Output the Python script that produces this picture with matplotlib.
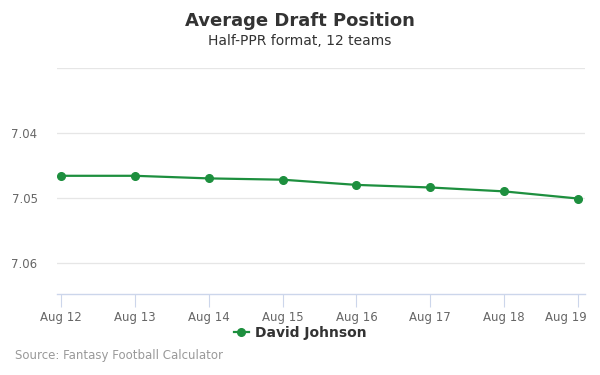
import matplotlib
matplotlib.use("Agg")
import matplotlib.pyplot as plt
import matplotlib.transforms as mtransforms
from matplotlib.lines import Line2D

dates = ["Aug 12", "Aug 13", "Aug 14", "Aug 15", "Aug 16", "Aug 17", "Aug 18", "Aug 19"]
adp = [7.0466, 7.0466, 7.0470, 7.0472, 7.0480, 7.0484, 7.0490, 7.0501]
y_ticks = [7.04, 7.05, 7.06]

green = "#1d8f3e"

fig = plt.figure(figsize=(6, 3.75), dpi=100)
ax = fig.add_axes([0.095, 0.216, 0.88, 0.6027])

x = list(range(len(dates)))
ax.plot(x, adp, color=green, linewidth=1.6, marker="o", markersize=5.5, zorder=3)

ax.set_xlim(-0.054, 7.095)
ax.set_ylim(7.0648, 7.03)
ax.set_yticks(y_ticks)
ax.set_yticklabels([f"{v:.2f}" for v in y_ticks])
ax.set_xticks(x)
ax.set_xticklabels(dates)

# horizontal gridlines incl. top one
for g in [7.03] + y_ticks:
    ax.axhline(g, color="#e6e6e6", linewidth=0.9, zorder=0)

for s in ["top", "right", "left"]:
    ax.spines[s].set_visible(False)
ax.spines["bottom"].set_color("#ccd6eb")
ax.spines["bottom"].set_linewidth(1)

ax.tick_params(axis="y", length=0, labelsize=8.5, labelcolor="#666666", pad=14)
ax.tick_params(axis="x", length=9, color="#ccd6eb", labelsize=8.5, labelcolor="#666666", pad=3)

# last label pushed left to stay inside the chart, like the original
last = ax.get_xticklabels()[-1]
last.set_transform(last.get_transform() + mtransforms.ScaledTranslation(-12 / 100, 0, fig.dpi_scale_trans))

fig.text(0.5, 0.945, "Average Draft Position", ha="center", va="center",
         fontsize=13, fontweight="bold", color="#333333")
fig.text(0.5, 0.89, "Half-PPR format, 12 teams", ha="center", va="center",
         fontsize=10, color="#333333")

handle = Line2D([0], [0], color=green, marker="o", markersize=5.5, linewidth=1.6)
leg = fig.legend([handle], ["David Johnson"], loc="center", bbox_to_anchor=(0.5, 0.112),
                 frameon=False, handlelength=1.1, handletextpad=0.4,
                 prop={"weight": "bold", "size": 10})
for t in leg.get_texts():
    t.set_color("#333333")

fig.text(0.025, 0.051, "Source: Fantasy Football Calculator", ha="left", va="center",
         fontsize=8.5, color="#999999")

fig.savefig("out.png", dpi=100)
